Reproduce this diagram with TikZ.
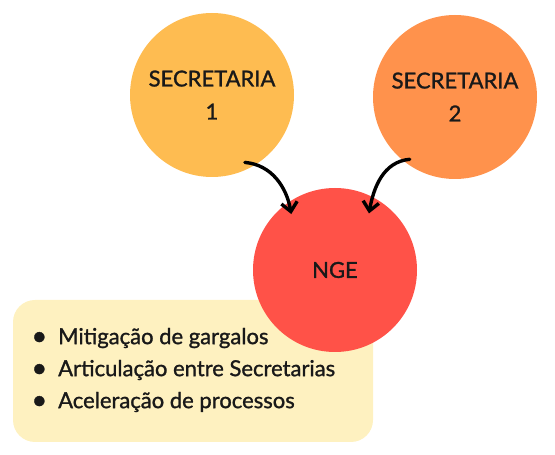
\documentclass[tikz,border=0pt]{standalone}
\usepackage{fontspec}
\setmainfont{Lato}[FakeBold=1.2]
\usetikzlibrary{arrows.meta,positioning,calc}
\definecolor{secYellow}{RGB}{254, 188, 81}
\definecolor{secOrange}{RGB}{255, 146, 76}
\definecolor{ngeRed}{RGB}{255, 82, 72}
\definecolor{noteYellow}{RGB}{254, 241, 192}
\newcommand{\listdot}{{\fontsize{27}{32}\selectfont\raisebox{-1pt}{\textbullet}}\hspace{11pt}}

\begin{document}
\begin{tikzpicture}[
  x=1pt, y=1pt,
  unit/.style={circle, minimum size=164pt, inner sep=0pt, align=center,
    font=\fontsize{22}{33}\selectfont, text=black!90},
  note/.style={rounded corners=22pt, minimum width=360pt, minimum height=142pt, inner sep=0pt},
  arrow/.style={-{Straight Barb[length=9pt,width=16pt]}, line width=3.4pt, line cap=round}
]
\useasboundingbox (0,0) rectangle (555,455);
% summary box sits under the NGE circle
\node[note, fill=noteYellow] (box) at (193,84) {};
\node[unit, fill=secYellow] (sec1) at (212,360) {SECRETARIA\\1};
\node[unit, fill=secOrange] (sec2) at (455,358) {SECRETARIA\\2};
\node[unit, fill=ngeRed] (nge) at (335,185) {NGE};
\node[anchor=west, align=left, font=\fontsize{22}{32}\selectfont, text=black!90]
  (list) at (28,85) {\listdot Mitigação de gargalos\\
  \listdot Articulação entre Secretarias\\
  \listdot Aceleração de processos};
\coordinate (from1) at ($(sec1.center)+(-64:75pt)$);
\coordinate (to1) at ($(nge.center)+(128:71pt)$);
\coordinate (from2) at ($(sec2.center)+(234:77pt)$);
\coordinate (to2) at ($(nge.center)+(59:66pt)$);
\draw[arrow] (from1) to[out=-5, in=100] (to1);
\draw[arrow] (from2) to[out=185, in=80] (to2);
\end{tikzpicture}
\end{document}
